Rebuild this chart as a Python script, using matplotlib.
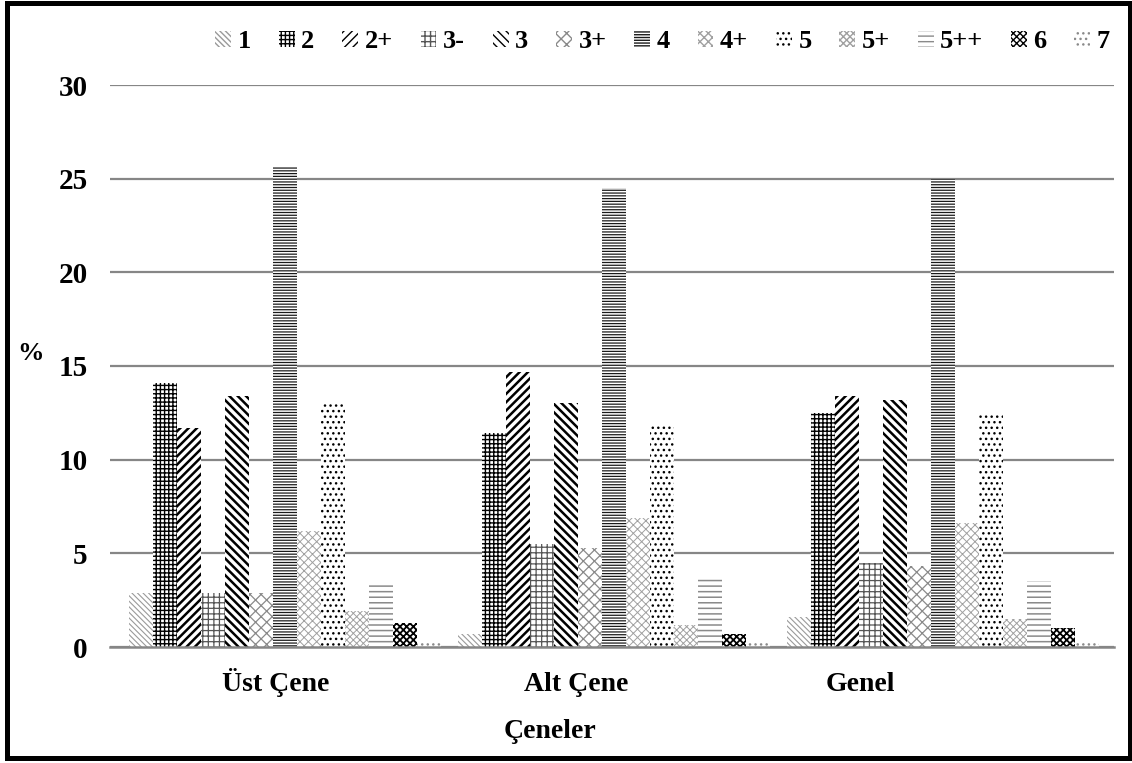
import matplotlib
matplotlib.use("Agg")
import matplotlib.pyplot as plt
from matplotlib.patches import Rectangle
import numpy as np

# ---- data ----
categories = ['Üst Çene', 'Alt Çene', 'Genel']
series_names = ['1', '2', '2+', '3-', '3', '3+', '4', '4+', '5', '5+', '5++', '6', '7']
s_1 = [2.9, 0.7, 1.6]
s_2 = [14.1, 11.4, 12.5]
s_2p = [11.7, 14.7, 13.4]
s_3m = [2.9, 5.5, 4.5]
s_3 = [13.4, 13.0, 13.2]
s_3p = [2.9, 5.3, 4.3]
s_4 = [25.6, 24.5, 25.0]
s_4p = [6.2, 6.9, 6.6]
s_5 = [13.0, 11.9, 12.4]
s_5p = [1.9, 1.2, 1.5]
s_5pp = [3.3, 3.7, 3.5]
s_6 = [1.3, 0.7, 1.0]
s_7 = [0.3, 0.2, 0.3]
series_values = [s_1, s_2, s_2p, s_3m, s_3, s_3p, s_4, s_4p, s_5, s_5p, s_5pp, s_6, s_7]
yticks = [0, 5, 10, 15, 20, 25, 30]

# ---- styles (hatch, colour, hatch linewidth) ----
styles = [
    ('\\\\\\\\\\\\', '#9a9a9a', 0.8),
    ('++++', '#000000', 1.0),
    ('////', '#000000', 1.8),
    ('+++', '#555555', 0.9),
    ('\\\\\\\\', '#000000', 1.8),
    ('xxx', '#8a8a8a', 0.9),
    ('------', '#1a1a1a', 0.9),
    ('xxxx', '#a0a0a0', 0.7),
    ('...', '#000000', 1.0),
    ('xxxxx', '#a0a0a0', 0.7),
    ('---', '#8a8a8a', 1.1),
    ('xxxxx', '#000000', 1.3),
    ('...', '#8a8a8a', 1.0),
]

W, H = 1132, 763
fig = plt.figure(figsize=(W / 100, H / 100), dpi=100)
fig.patch.set_facecolor('white')
font = {'family': 'Liberation Serif', 'weight': 'bold'}

ax = fig.add_axes([110 / W, 1 - 647 / H, (1114 - 110) / W, (647 - 85) / H])
x = np.arange(len(categories))
bw = 0.073
n = len(series_names)
for i, (name, vals) in enumerate(zip(series_names, series_values)):
    hatch, col, hlw = styles[i]
    with plt.rc_context({'hatch.linewidth': hlw}):
        bars = ax.bar(x + (i - (n - 1) / 2) * bw, vals, bw, label=name,
                      facecolor='white', edgecolor=col, hatch=hatch, linewidth=0)
    for b in bars:
        try:
            b.set_hatch_linewidth(hlw)
        except AttributeError:
            pass

ax.set_xlim(-0.532, 2.52)
ax.set_ylim(0, 30)
ax.set_yticks(yticks)
ax.set_yticklabels([str(t) for t in yticks], fontdict=font, fontsize=21)
ax.yaxis.grid(True, color='#868686', linewidth=1.6)
ax.set_axisbelow(True)
for s in ['top', 'right', 'left']:
    ax.spines[s].set_visible(False)
ax.spines['bottom'].set_color('#868686')
ax.spines['bottom'].set_linewidth(1.8)
ax.tick_params(axis='y', length=0, pad=16)
ax.tick_params(axis='x', length=0, pad=31.5)
ax.set_xticks([-0.027, 0.884, 1.748])
ax.set_xticklabels(categories, fontdict=font, fontsize=20)
for lbl in ax.get_xticklabels():
    lbl.set_va('baseline')

fig.text(550 / W, 1 - 738 / H, 'Çeneler', ha='center', va='baseline', fontsize=20, **font)
fig.text(30 / W, 1 - 353 / H, '%', ha='center', va='center', fontsize=19, **font)

leg = fig.legend(loc='center right', bbox_to_anchor=(1110 / W, 1 - 42 / H),
                 bbox_transform=fig.transFigure, ncol=n, frameon=False,
                 prop={'family': 'Liberation Serif', 'weight': 'bold', 'size': 19},
                 handlelength=0.6, handleheight=0.55, handletextpad=0.25,
                 columnspacing=1.05, borderpad=0, borderaxespad=0)

fig.patches.append(Rectangle((6.5 / W, 5 / H), (1129.5 - 6.5) / W, (760 - 5) / H,
                             transform=fig.transFigure, fill=False,
                             edgecolor='black', linewidth=3.6))

fig.savefig('out.png', dpi=100)
